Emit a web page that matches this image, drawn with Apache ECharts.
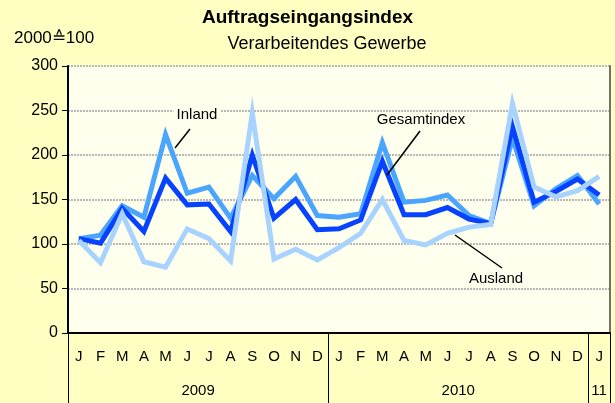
<!DOCTYPE html>
<html>
<head>
<meta charset="utf-8">
<script src="https://cdn.jsdelivr.net/npm/echarts@6/dist/echarts.min.js"></script>
<style>
  html, body { margin: 0; padding: 0; background: #ffffc2; }
  #chart { width: 615px; height: 403px; }
</style>
</head>
<body>
<div id="chart"></div>
<script>
  // Monate Jan 2009 - Jan 2011
  const months = ['J','F','M','A','M','J','J','A','S','O','N','D',
                  'J','F','M','A','M','J','J','A','S','O','N','D','J'];
  const years = ['2009', '2010', '11'];
  const yearSpans = [12, 12, 1];

  const gesamt = [106, 101, 140, 114, 174, 144, 145, 114, 200, 129, 150, 116,
                  117, 127, 193, 133, 133, 141, 128, 123, 232, 147, 159, 173, 155];
  const inland = [106, 110, 143, 130, 223, 157, 164, 129, 177, 151, 176, 132,
                  130, 134, 214, 147, 149, 155, 132, 123, 219, 143, 162, 177, 145];
  const ausland = [104, 79, 134, 80, 74, 117, 106, 81, 247, 83, 94, 82,
                   96, 112, 150, 104, 99, 112, 119, 122, 258, 164, 153, 160, 176];

  const yTicks = [0, 50, 100, 150, 200, 250, 300];

  // Jahresmitte für die zweite Zeile
  const yearPos = {};
  let start = 0;
  years.forEach((y, i) => {
    yearPos[start + yearSpans[i] / 2] = y;
    start += yearSpans[i];
  });
  const yearStarts = [0];
  yearSpans.forEach((s, i) => yearStarts.push(yearStarts[i] + s));

  const font = 'Liberation Sans, Arial, sans-serif';
  const chart = echarts.init(document.getElementById('chart'));

  const mkLine = (name, data, color) => ({
    name: name,
    type: 'line',
    data: data,
    symbol: 'none',
    xAxisIndex: 0,
    lineStyle: { color: color, width: 5, join: 'miter' },
    itemStyle: { color: color },
    animation: false
  });

  const label = (txt, x, y, bg) => ({
    type: 'text', x: x, y: y, z: 100,
    style: {
      text: txt, font: '15px ' + font, fill: '#000',
      align: 'center', verticalAlign: 'middle',
      backgroundColor: bg ? '#ffffee' : null, padding: bg ? [0, 3] : 0
    }
  });
  const leader = (x1, y1, x2, y2) => ({
    type: 'line', z: 100,
    shape: { x1: x1, y1: y1, x2: x2, y2: y2 },
    style: { stroke: '#000', lineWidth: 1.5 }
  });

  const option = {
    backgroundColor: '#ffffc2',
    animation: false,
    title: [
      {
        text: 'Auftragseingangsindex',
        left: 'center', top: 3,
        textStyle: { fontFamily: font, fontSize: 19, fontWeight: 'bold', color: '#000' }
      },
      {
        text: 'Verarbeitendes Gewerbe',
        left: 322, top: 30,
        textAlign: 'center',
        textStyle: { fontFamily: font, fontSize: 18, fontWeight: 'normal', color: '#000' }
      },
      {
        text: '2000\u2259100',
        left: 9, top: 25,
        textStyle: { fontFamily: font, fontSize: 17, fontWeight: 'normal', color: '#000' }
      }
    ],
    grid: {
      left: 68, right: 5, top: 66, bottom: 70,
      show: true, backgroundColor: '#ffffee', borderWidth: 0
    },
    xAxis: [
      {
        type: 'category',
        data: months,
        boundaryGap: true,
        axisLine: { lineStyle: { color: '#000', width: 2 } },
        axisTick: {
          show: true, length: 70,
          interval: (i) => yearStarts.indexOf(i) >= 0,
          lineStyle: { color: '#000', width: 1 }
        },
        axisLabel: { interval: 0, margin: 16, fontFamily: font, fontSize: 15, color: '#000' }
      },
      {
        type: 'value',
        position: 'bottom',
        min: 0, max: months.length, interval: 0.5,
        offset: 42,
        axisLine: { show: false },
        axisTick: { show: false },
        splitLine: { show: false },
        axisLabel: {
          showMinLabel: true, showMaxLabel: true,
          formatter: (v) => yearPos[v] || '',
          fontFamily: font, fontSize: 15, color: '#000'
        }
      }
    ],
    yAxis: [
      {
        type: 'value',
        min: 0, max: 300, interval: 50,
        axisLine: { show: true, lineStyle: { color: '#000', width: 2 } },
        axisTick: { show: true, length: 6, lineStyle: { color: '#000', width: 1 } },
        axisLabel: {
          margin: 10, fontFamily: font, fontSize: 16, color: '#000',
          formatter: (v) => yTicks.indexOf(v) >= 0 ? String(v) : ''
        },
        splitLine: { show: true, lineStyle: { color: '#b8b8b8', width: 2, type: [2, 1] } }
      },
      {
        type: 'value', position: 'right',
        min: 0, max: 300,
        axisLine: { show: true, lineStyle: { color: '#707070', width: 2 } },
        axisTick: { show: false }, axisLabel: { show: false }, splitLine: { show: false }
      }
    ],
    series: [
      mkLine('Inland', inland, '#4aa5ff'),
      mkLine('Gesamtindex', gesamt, '#0742ff'),
      mkLine('Ausland', ausland, '#a9d3ff')
    ],
    graphic: [
      label('Inland', 197, 115, true),
      leader(190, 129, 175, 148),
      label('Gesamtindex', 421, 120, false),
      leader(420, 131, 387, 175),
      label('Ausland', 496, 279, false),
      leader(502, 268, 455, 235)
    ]
  };

  chart.setOption(option);
</script>
</body>
</html>
